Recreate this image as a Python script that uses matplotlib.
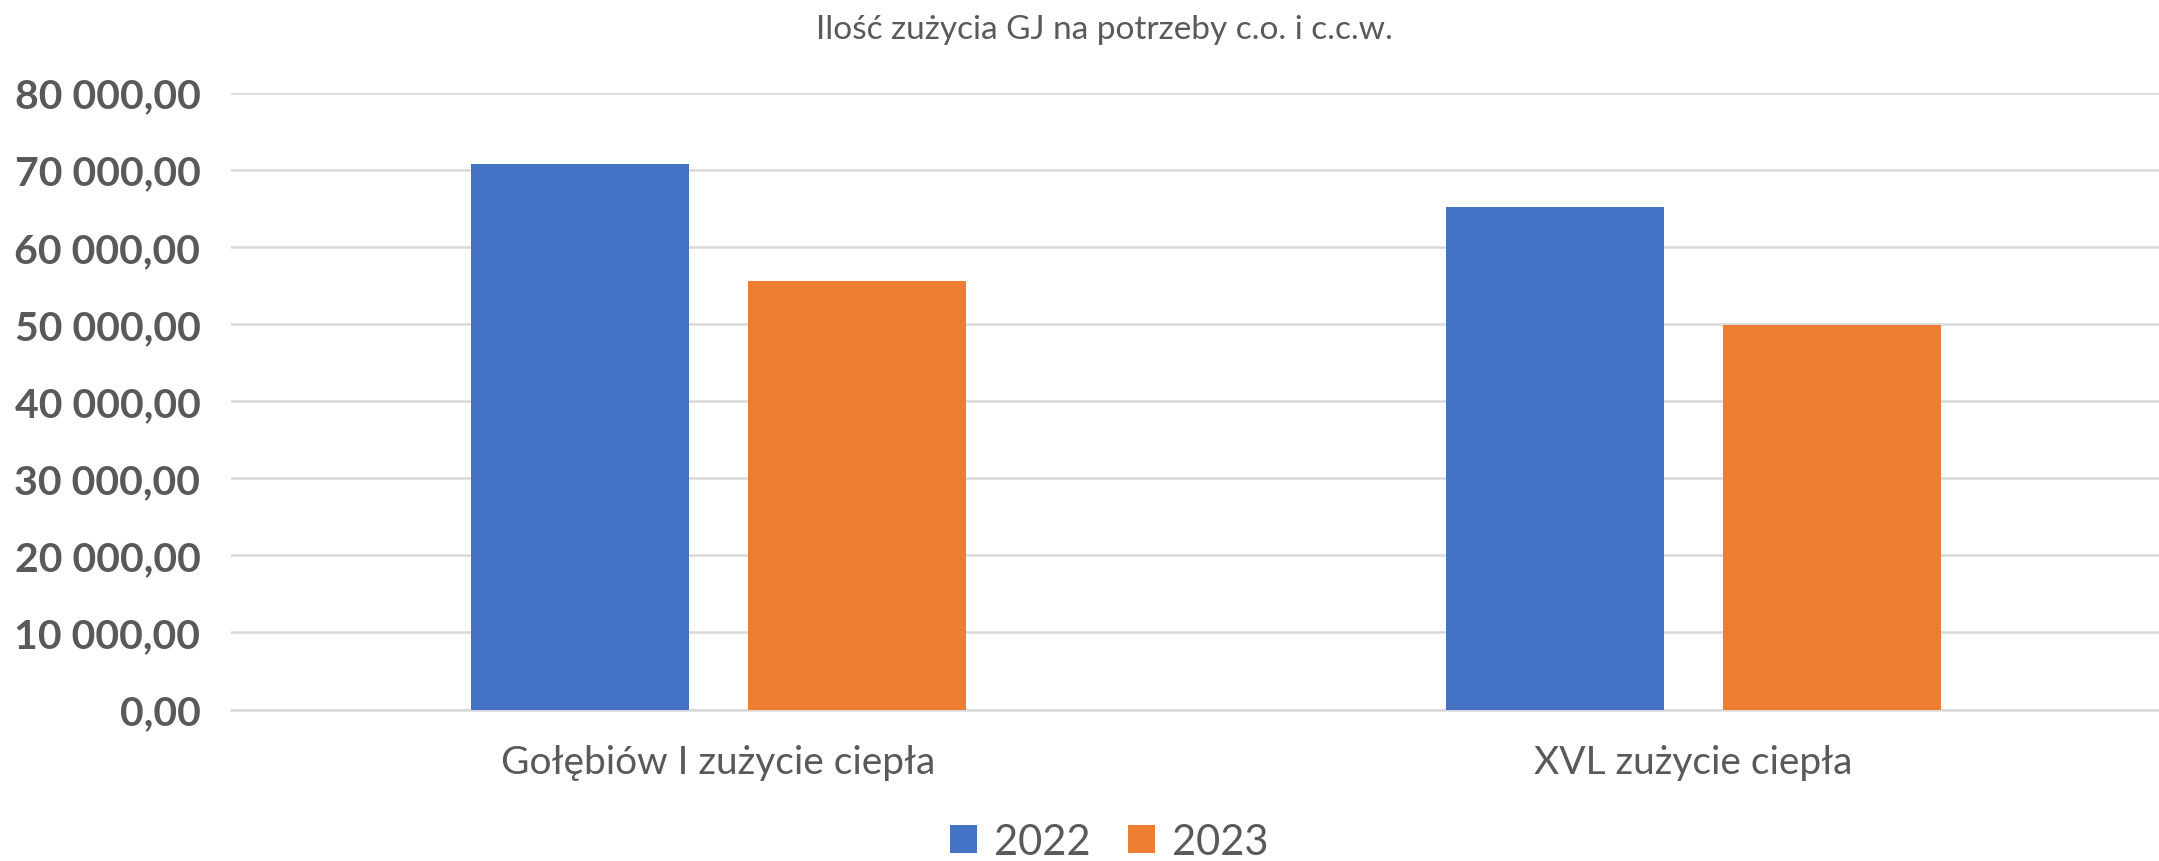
import numpy as np
import matplotlib.pyplot as plt
from matplotlib.ticker import FuncFormatter

title = 'Ilość zużycia GJ na potrzeby c.o. i c.c.w.'
categories = ['Gołębiów I zużycie ciepła', 'XVL zużycie ciepła']
series = ['2022', '2023']
values_2022 = [70740, 65120]
values_2023 = [55580, 49860]
colors = ['#4472C4', '#ED7D31']
txt = '#595959'

plt.rcParams['font.family'] = ['Lato', 'DejaVu Sans']

fig = plt.figure(figsize=(21.59, 8.62), dpi=100)
ax = fig.add_axes([231 / 2159, 151.5 / 862, 1950 / 2159, 617 / 862])

x = np.arange(len(categories))
w = 0.224
off = 0.142
ax.bar(x - off, values_2022, w, color=colors[0], label=series[0], zorder=3)
ax.bar(x + off, values_2023, w, color=colors[1], label=series[1], zorder=3)

ax.set_xlim(-0.5, 1.5)
ax.set_ylim(0, 80000)
ax.set_yticks(np.arange(0, 80001, 10000))


def fmt(v, pos):
    s = '{:,.2f}'.format(v).replace(',', ' ').replace('.', ',')
    return s


ax.yaxis.set_major_formatter(FuncFormatter(fmt))
ax.grid(axis='y', color='#d9d9d9', lw=1.8, zorder=0)
for s in ['top', 'right', 'left']:
    ax.spines[s].set_visible(False)
ax.spines['bottom'].set_color('#d9d9d9')
ax.spines['bottom'].set_linewidth(1.8)
ax.tick_params(axis='y', length=0, pad=22, labelsize=29.5, labelcolor=txt)
for t in ax.get_yticklabels():
    t.set_fontweight('bold')
ax.set_xticks(x)
ax.set_xticklabels(categories)
ax.tick_params(axis='x', length=0, pad=25, labelsize=28, labelcolor=txt)

fig.text(1104 / 2159, 1 - 30 / 862, title, ha='center', va='center', fontsize=24, color=txt)

leg = fig.legend(loc='center', bbox_to_anchor=(1109 / 2159, 1 - 843 / 862), ncol=2,
                 frameon=False, fontsize=30, handlelength=0.65, handleheight=0.65,
                 handletextpad=0.4, columnspacing=0.9, labelcolor=txt)

fig.savefig('out.png', dpi=100)
